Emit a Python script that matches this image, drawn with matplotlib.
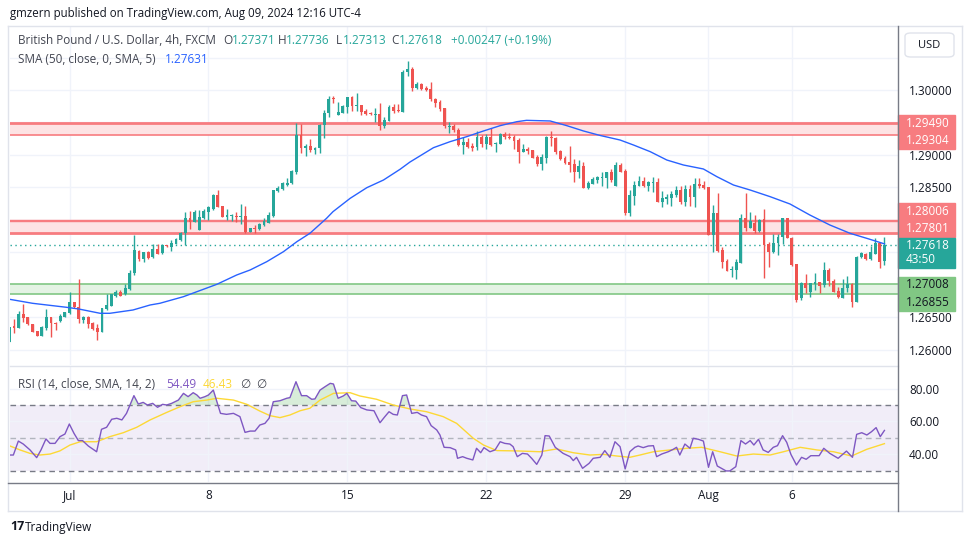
import numpy as np
import matplotlib.pyplot as plt
import matplotlib.transforms as mtransforms
from matplotlib.patches import Rectangle, FancyBboxPatch
from matplotlib.lines import Line2D

plt.rcParams['font.family'] = ['Open Sans', 'DejaVu Sans']

# GBPUSD 4h candles, first one is cut by the left edge
opens = [1.26125, 1.26372, 1.26341, 1.26546, 1.26505, 1.26392, 1.26290, 1.26218, 1.26341, 1.26505,
         1.26410, 1.26449, 1.26510, 1.26562, 1.26731, 1.26654, 1.26459, 1.26510, 1.26418, 1.26331,
         1.26279, 1.26628, 1.26680, 1.26834, 1.26885, 1.26854, 1.26936, 1.27177, 1.27526, 1.27398,
         1.27511, 1.27424, 1.27552, 1.27485, 1.27614, 1.27588, 1.27629, 1.27691, 1.27793, 1.28024,
         1.27973, 1.27850, 1.28024, 1.28127, 1.28163, 1.28383, 1.28214, 1.28040, 1.28060, 1.28065,
         1.28045, 1.28060, 1.27819, 1.27881, 1.27855, 1.27922, 1.27958, 1.28065, 1.28450, 1.28471,
         1.28537, 1.28563, 1.28743, 1.29307, 1.29102, 1.29138, 1.29076, 1.29102, 1.29461, 1.29641,
         1.29872, 1.29615, 1.29651, 1.29743, 1.29887, 1.29754, 1.29769, 1.29677, 1.29651, 1.29620,
         1.29625, 1.29446, 1.29528, 1.29733, 1.29692, 1.29666, 1.30272, 1.30323, 1.30026, 1.30092,
         1.30036, 1.30015, 1.29861, 1.29820, 1.29718, 1.29436, 1.29451, 1.29384, 1.29153, 1.29194,
         1.29143, 1.29128, 1.29271, 1.29169, 1.29271, 1.29174, 1.29169, 1.29323, 1.29282, 1.29282,
         1.29230, 1.29051, 1.29092, 1.29076, 1.28968, 1.28856, 1.28958, 1.29282, 1.29266, 1.29061,
         1.28958, 1.28897, 1.28861, 1.28743, 1.28830, 1.28496, 1.28558, 1.28614, 1.28650, 1.28650,
         1.28743, 1.28527, 1.28845, 1.28753, 1.28111, 1.28373, 1.28527, 1.28599, 1.28527, 1.28573,
         1.28578, 1.28281, 1.28317, 1.28342, 1.28383, 1.28460, 1.28281, 1.28476, 1.28358, 1.28553,
         1.28537, 1.28501, 1.27768, 1.28111, 1.27537, 1.27367, 1.27228, 1.27228, 1.27342, 1.28024,
         1.27880, 1.27947, 1.27829, 1.28014, 1.27624, 1.27511, 1.27650, 1.27742, 1.28024, 1.27727,
         1.27316, 1.26792, 1.27034, 1.26895, 1.27018, 1.27039, 1.26998, 1.27229, 1.27065, 1.26905,
         1.26803, 1.26946, 1.27013, 1.26741, 1.27434, 1.27475, 1.27393, 1.27475, 1.27650, 1.27371]
highs = [1.26356, 1.26469, 1.26597, 1.26705, 1.26510, 1.26400, 1.26295, 1.26360, 1.26623, 1.26510,
         1.26433, 1.26546, 1.26585, 1.26885, 1.26735, 1.27090, 1.26520, 1.26515, 1.26425, 1.26392,
         1.26645, 1.26854, 1.26860, 1.26921, 1.26921, 1.27008, 1.27229, 1.27768, 1.27530, 1.27511,
         1.27515, 1.27624, 1.27624, 1.27629, 1.27620, 1.27691, 1.27716, 1.27819, 1.28127, 1.28137,
         1.28152, 1.28152, 1.28168, 1.28219, 1.28394, 1.28460, 1.28220, 1.28168, 1.28086, 1.28127,
         1.28245, 1.28214, 1.27881, 1.27922, 1.27947, 1.28024, 1.28127, 1.28460, 1.28527, 1.28589,
         1.28650, 1.28768, 1.29487, 1.29477, 1.29163, 1.29246, 1.29122, 1.29471, 1.29692, 1.29908,
         1.29908, 1.29810, 1.29769, 1.29897, 1.29908, 1.29949, 1.29775, 1.29707, 1.29666, 1.29728,
         1.29795, 1.29579, 1.29769, 1.29779, 1.29784, 1.30308, 1.30446, 1.30349, 1.30128, 1.30103,
         1.30062, 1.30128, 1.29882, 1.29846, 1.29720, 1.29512, 1.29471, 1.29410, 1.29271, 1.29256,
         1.29179, 1.29374, 1.29307, 1.29317, 1.29420, 1.29194, 1.29333, 1.29348, 1.29333, 1.29307,
         1.29256, 1.29169, 1.29128, 1.29080, 1.28999, 1.29015, 1.29285, 1.29369, 1.29282, 1.29071,
         1.28984, 1.29143, 1.28938, 1.28922, 1.28886, 1.28599, 1.28661, 1.28681, 1.28743, 1.28745,
         1.28784, 1.28886, 1.28881, 1.28784, 1.28460, 1.28599, 1.28676, 1.28666, 1.28599, 1.28666,
         1.28640, 1.28445, 1.28394, 1.28445, 1.28522, 1.28522, 1.28537, 1.28537, 1.28650, 1.28640,
         1.28599, 1.28512, 1.28229, 1.28409, 1.27578, 1.27393, 1.27290, 1.27398, 1.28086, 1.28409,
         1.28117, 1.28075, 1.28014, 1.28163, 1.27665, 1.27778, 1.27778, 1.28030, 1.28030, 1.27735,
         1.27320, 1.27049, 1.27162, 1.27034, 1.27177, 1.27049, 1.27357, 1.27254, 1.27090, 1.26972,
         1.27090, 1.27141, 1.27023, 1.27444, 1.27511, 1.27485, 1.27603, 1.27727, 1.27665, 1.27736]
lows = [1.26125, 1.26264, 1.26330, 1.26433, 1.26380, 1.26270, 1.26210, 1.26210, 1.26305, 1.26202,
        1.26305, 1.26433, 1.26505, 1.26555, 1.26650, 1.26408, 1.26408, 1.26341, 1.26310, 1.26151,
        1.26275, 1.26613, 1.26675, 1.26808, 1.26830, 1.26844, 1.26921, 1.27152, 1.27372, 1.27347,
        1.27398, 1.27408, 1.27470, 1.27475, 1.27585, 1.27526, 1.27625, 1.27680, 1.27614, 1.27860,
        1.27963, 1.27845, 1.28020, 1.27999, 1.28160, 1.28200, 1.28045, 1.27999, 1.27989, 1.27973,
        1.27932, 1.27793, 1.27809, 1.27793, 1.27845, 1.27911, 1.27947, 1.28050, 1.28435, 1.28460,
        1.28527, 1.28548, 1.28702, 1.29035, 1.28989, 1.29040, 1.29020, 1.29035, 1.29266, 1.29590,
        1.29795, 1.29610, 1.29641, 1.29641, 1.29682, 1.29682, 1.29615, 1.29615, 1.29615, 1.29512,
        1.29384, 1.29420, 1.29520, 1.29641, 1.29656, 1.29660, 1.30221, 1.29990, 1.30010, 1.30000,
        1.29990, 1.29836, 1.29743, 1.29682, 1.29410, 1.29343, 1.29348, 1.29138, 1.29015, 1.29112,
        1.29061, 1.29076, 1.29128, 1.29092, 1.29143, 1.29051, 1.29165, 1.29240, 1.29246, 1.29092,
        1.28881, 1.29045, 1.29015, 1.28950, 1.28830, 1.28768, 1.28881, 1.29143, 1.29010, 1.28927,
        1.28856, 1.28743, 1.28589, 1.28640, 1.28490, 1.28471, 1.28548, 1.28573, 1.28527, 1.28496,
        1.28589, 1.28520, 1.28740, 1.28075, 1.28065, 1.28229, 1.28520, 1.28507, 1.28445, 1.28435,
        1.28275, 1.28204, 1.28240, 1.28219, 1.28358, 1.28240, 1.28219, 1.28219, 1.28204, 1.28486,
        1.28471, 1.27760, 1.27511, 1.27511, 1.27265, 1.27213, 1.27126, 1.27085, 1.27340, 1.27834,
        1.27870, 1.27803, 1.27819, 1.27100, 1.27280, 1.27485, 1.27460, 1.27624, 1.27720, 1.27296,
        1.26731, 1.26767, 1.26870, 1.26818, 1.26921, 1.26870, 1.26972, 1.26988, 1.26885, 1.26792,
        1.26792, 1.26885, 1.26654, 1.26735, 1.27408, 1.27383, 1.27383, 1.27470, 1.27265, 1.27313]
closes = [1.26356, 1.26341, 1.26546, 1.26485, 1.26392, 1.26279, 1.26218, 1.26356, 1.26500, 1.26408,
          1.26400, 1.26521, 1.26577, 1.26731, 1.26654, 1.26469, 1.26510, 1.26392, 1.26320, 1.26279,
          1.26639, 1.26690, 1.26854, 1.26895, 1.26834, 1.26946, 1.27177, 1.27537, 1.27398, 1.27501,
          1.27419, 1.27552, 1.27475, 1.27614, 1.27593, 1.27639, 1.27706, 1.27798, 1.28034, 1.27973,
          1.28127, 1.28040, 1.28142, 1.28194, 1.28383, 1.28204, 1.28050, 1.28075, 1.28075, 1.28050,
          1.28060, 1.27819, 1.27870, 1.27860, 1.27932, 1.27983, 1.28075, 1.28460, 1.28486, 1.28563,
          1.28573, 1.28753, 1.29307, 1.29102, 1.29143, 1.29076, 1.29102, 1.29461, 1.29641, 1.29861,
          1.29856, 1.29656, 1.29754, 1.29887, 1.29759, 1.29769, 1.29666, 1.29630, 1.29625, 1.29630,
          1.29451, 1.29538, 1.29743, 1.29682, 1.29682, 1.30272, 1.30323, 1.30036, 1.30092, 1.30015,
          1.30000, 1.29861, 1.29805, 1.29707, 1.29446, 1.29451, 1.29384, 1.29153, 1.29194, 1.29128,
          1.29102, 1.29271, 1.29163, 1.29282, 1.29153, 1.29189, 1.29323, 1.29271, 1.29266, 1.29215,
          1.29051, 1.29092, 1.29061, 1.28958, 1.28856, 1.28974, 1.29282, 1.29256, 1.29051, 1.28938,
          1.28871, 1.28845, 1.28743, 1.28830, 1.28496, 1.28573, 1.28630, 1.28666, 1.28661, 1.28743,
          1.28614, 1.28845, 1.28743, 1.28111, 1.28383, 1.28537, 1.28599, 1.28527, 1.28589, 1.28589,
          1.28281, 1.28332, 1.28358, 1.28399, 1.28460, 1.28281, 1.28476, 1.28358, 1.28553, 1.28527,
          1.28486, 1.27768, 1.28111, 1.27521, 1.27357, 1.27218, 1.27239, 1.27347, 1.28034, 1.27880,
          1.27988, 1.27829, 1.27999, 1.27614, 1.27511, 1.27650, 1.27742, 1.28024, 1.27727, 1.27306,
          1.26767, 1.27034, 1.26946, 1.27023, 1.27039, 1.26988, 1.27229, 1.27059, 1.26895, 1.26818,
          1.26946, 1.27008, 1.26741, 1.27434, 1.27485, 1.27393, 1.27511, 1.27639, 1.27357, 1.27618]

# SMA(50) line: (candle index, value)
sma_pts = [(-0.9, 1.26777), (4, 1.26716), (11.4, 1.26654), (14, 1.26628), (18.6, 1.26562),
           (20.7, 1.26562), (25.7, 1.26613), (29.4, 1.26690), (31.5, 1.26716), (36.6, 1.26818),
           (43.8, 1.27008), (48.1, 1.27152), (51, 1.27229), (54.6, 1.27357), (58.2, 1.27511),
           (61.1, 1.27665), (63.9, 1.27793), (67.5, 1.28024), (68.9, 1.28127), (72.6, 1.28332),
           (76.2, 1.28496), (79.8, 1.28614), (83.4, 1.28780), (85.5, 1.28890), (90.6, 1.29112),
           (94.2, 1.29205), (97.8, 1.29282), (101.4, 1.29369), (105, 1.29451), (108.6, 1.29512),
           (110.7, 1.29533), (115.8, 1.29523), (119.4, 1.29451), (123, 1.29369), (126.6, 1.29300),
           (130.9, 1.29230), (133.8, 1.29153), (137.4, 1.29051), (141, 1.28922), (144.6, 1.28845),
           (148.9, 1.28784), (151.8, 1.28666), (155.4, 1.28537), (159, 1.28460), (163.3, 1.28358),
           (167.6, 1.28245), (171.9, 1.28075), (176.2, 1.27922), (180.6, 1.27793), (184.2, 1.27716),
           (188, 1.27631)]

# RSI(14) and its SMA(14)
rsi_pts = [(-0.86, 39.5), (-0.14, 39.5), (0.94, 48.0), (2.0, 46.2), (3.46, 42.6), (4.9, 37.9),
           (5.83, 42.6), (6.9, 49.3), (7.78, 46.6), (8.86, 46.6), (9.94, 50.7), (11.0, 52.3),
           (11.95, 58.4), (12.96, 52.7), (13.9, 48.3), (14.8, 48.3), (16.05, 45.0), (17.85, 41.5),
           (18.9, 55.2), (20.0, 56.4), (21.1, 61.3), (22.2, 61.9), (23.3, 60.9), (24.3, 64.9),
           (25.9, 75.7), (26.85, 70.6), (27.9, 71.6), (28.8, 70.0), (29.95, 71.0), (31.0, 68.6),
           (32.1, 70.4), (32.97, 70.0), (34.05, 71.0), (35.5, 73.0), (36.6, 77.1), (37.6, 75.1),
           (38.7, 77.5), (39.5, 76.1), (40.2, 74.1), (41.25, 75.1), (42.0, 76.1), (43.05, 79.1),
           (44.6, 64.9), (45.9, 64.3), (47.4, 64.9), (48.8, 62.9), (49.9, 53.3), (51.0, 54.1),
           (52.05, 54.1), (53.1, 57.8), (54.2, 58.8), (55.1, 61.9), (56.0, 72.0), (57.45, 72.6),
           (58.9, 74.1), (59.6, 74.5), (60.9, 84.2), (62.1, 75.7), (63.2, 75.7), (64.3, 73.5),
           (65.0, 73.7), (66.1, 79.1), (67.2, 81.2), (68.3, 83.2), (69.0, 82.8), (70.0, 74.1),
           (71.1, 75.5), (71.9, 77.1), (72.9, 72.6), (73.8, 72.4), (74.9, 68.4), (76.2, 67.0),
           (77.75, 66.5), (79.05, 59.2), (80.1, 62.9), (81.0, 65.9), (81.9, 64.3), (82.8, 63.9),
           (83.9, 75.7), (84.8, 76.1), (85.9, 64.9), (87.1, 65.5), (88.0, 63.9), (89.1, 62.9),
           (90.1, 57.4), (91.3, 54.8), (92.0, 51.7), (92.9, 44.2), (94.2, 44.0), (95.4, 42.6),
           (95.8, 37.5), (96.9, 38.5), (97.8, 37.5), (99.1, 36.5), (99.9, 43.6), (100.8, 40.9),
           (101.5, 44.0), (102.8, 41.5), (103.9, 42.6), (105.0, 47.6), (106.0, 46.6), (107.1, 46.2),
           (107.8, 44.6), (108.7, 38.5), (109.8, 40.5), (110.9, 40.1), (111.8, 37.5), (112.9, 33.8),
           (114.0, 39.5), (114.7, 51.3), (115.6, 51.1), (116.9, 44.2), (118.6, 40.5), (120.1, 38.5),
           (120.8, 36.1), (121.5, 38.1), (122.8, 31.4), (124.2, 34.4), (125.1, 37.5), (126.6, 38.1),
           (127.6, 42.2), (128.7, 38.1), (129.8, 47.6), (130.9, 44.6), (132.0, 31.0), (133.0, 41.5),
           (134.1, 44.2), (134.8, 45.0), (135.9, 44.0), (137.0, 45.0), (138.1, 45.2), (138.8, 38.5),
           (139.9, 40.1), (141.3, 41.5), (142.4, 43.0), (143.1, 44.2), (143.8, 39.5), (144.9, 46.2),
           (146.0, 43.6), (146.7, 49.7), (147.8, 49.1), (148.9, 48.0), (150.0, 32.0), (150.9, 41.5),
           (151.9, 32.8), (152.8, 31.4), (153.8, 29.8), (154.6, 29.8), (155.9, 32.4), (157.0, 48.3),
           (158.0, 46.2), (159.0, 48.3), (159.8, 45.6), (160.8, 49.1), (161.8, 42.6), (162.9, 41.1),
           (164.0, 44.2), (164.9, 45.2), (166.0, 51.3), (166.9, 47.2), (167.8, 39.9), (169.0, 33.4),
           (170.1, 38.1), (171.1, 36.9), (172.1, 39.1), (173.9, 39.1), (174.9, 43.6), (176.2, 40.5),
           (178.0, 37.5), (179.8, 41.9), (181.1, 38.1), (182.0, 52.1), (183.1, 53.1), (184.2, 51.7),
           (185.2, 53.7), (186.2, 56.2), (187.1, 50.7), (188.0, 54.49)]
rsi_ma_pts = [(-0.86, 45.0), (1.3, 42.6), (3.46, 40.5), (5.6, 39.5), (7.8, 40.1), (9.9, 42.0),
              (12.1, 45.6), (14.3, 47.6), (17.85, 47.6), (20.7, 50.7), (23.6, 53.1), (26.5, 56.4),
              (29.4, 60.9), (33.0, 65.5), (35.9, 69.0), (38.7, 72.0), (41.6, 73.0), (43.8, 74.1),
              (47.4, 73.0), (50.3, 70.4), (53.1, 66.3), (55.3, 63.5), (57.45, 62.3), (59.6, 63.9),
              (61.8, 66.5), (63.9, 68.0), (66.1, 73.0), (69.0, 77.1), (72.6, 77.5), (74.7, 75.5),
              (78.3, 73.5), (81.9, 70.0), (85.5, 67.6), (89.1, 65.9), (92.7, 62.9), (95.6, 58.8),
              (99.2, 49.7), (101.4, 45.6), (104.3, 42.2), (108.7, 42.0), (113.6, 41.5), (117.2, 43.2),
              (120.8, 40.9), (124.4, 39.5), (127.3, 39.9), (130.2, 38.9), (133.0, 38.1), (135.2, 39.5),
              (138.1, 41.5), (141.7, 42.6), (145.3, 43.6), (148.5, 44.2), (152.5, 41.5), (156.1, 38.9),
              (159.7, 40.1), (163.3, 39.5), (166.2, 41.5), (169.8, 44.2), (173.4, 42.6), (177.0, 41.5),
              (180.9, 38.9), (184.2, 43.0), (188.0, 46.43)]

red_zone_1 = (1.29304, 1.29490)
red_zone_2 = (1.27801, 1.28006)
green_zone = (1.26855, 1.27008)
last_price = 1.27618

date_idx = [12, 42, 72, 102, 132, 150, 168]
date_lbl = ['Jul', '8', '15', '22', '29', 'Aug', '6']
price_grid = [1.260, 1.265, 1.270, 1.275, 1.280, 1.285, 1.290, 1.295, 1.300, 1.305]
price_shown = {1.260: '1.26000', 1.265: '1.26500', 1.285: '1.28500', 1.290: '1.29000', 1.300: '1.30000'}

UP, DOWN = '#26a69a', '#ef5350'
GRID = '#f0f3fa'
TXT = '#131722'
GRAY = '#787b86'
LEG = '#434651'
RED_LINE, RED_FILL = '#f77c80', '#fde3e4'
GRN_LINE, GRN_FILL = '#81c784', '#e4f3e4'
FS = 8.5

W, H = 970, 545
fig = plt.figure(figsize=(W / 100, H / 100), dpi=100)
ax = fig.add_axes([10 / W, 1 - 365 / H, 888 / W, 338 / H])
rx = fig.add_axes([10 / W, 1 - 482 / H, 888 / W, 115 / H])

def T(x, y, s, **kw):
    kw.setdefault('va', 'center')
    kw.setdefault('size', FS)
    return fig.text(x / W, 1 - y / H, s, **kw)

# ---- main pane
xs = np.arange(len(closes)) - 1
o = np.array(opens); c = np.array(closes); hi = np.array(highs); lo = np.array(lows)
col = np.where(c >= o, UP, DOWN)

for z0, z1 in (red_zone_1, red_zone_2):
    ax.axhspan(z0, z1, color=RED_FILL, lw=0, zorder=1)
ax.axhspan(*green_zone, color=GRN_FILL, lw=0, zorder=1)
ax.axhline(red_zone_1[1], color=RED_LINE, lw=2, zorder=2)
ax.axhline(red_zone_1[0], color=RED_LINE, lw=1.2, zorder=2)
ax.axhline(red_zone_2[1], color=RED_LINE, lw=1, zorder=2)
ax.axhline(1.27985, color=RED_LINE, lw=1, zorder=2)
ax.axhline(red_zone_2[0], color=RED_LINE, lw=2, zorder=2)
ax.axhline(green_zone[1], color=GRN_LINE, lw=1.2, zorder=2)
ax.axhline(green_zone[0], color=GRN_LINE, lw=1.2, zorder=2)
ax.axhline(last_price, color=UP, lw=1, ls=(0, (1, 2.5)), zorder=2)

ax.vlines(xs, lo, hi, colors=col, lw=1, zorder=3)
ax.bar(xs, np.maximum(np.abs(c - o), 0.00003), bottom=np.minimum(o, c), width=0.62,
       color=col, lw=0, zorder=3)

sx, sv = zip(*sma_pts)
ax.plot(sx, sv, color='#2962ff', lw=1, zorder=4)

ax.set_xlim(-0.864, 190.93)
ax.set_ylim(1.25766, 1.30970)
ax.set_yticks(price_grid)
ax.set_yticklabels([price_shown.get(round(p, 3), '') for p in price_grid])
ax.yaxis.tick_right()
ax.set_xticks(date_idx)
ax.tick_params(axis='both', length=0, labelbottom=False, labelsize=FS, labelcolor=TXT, pad=8)
ax.grid(True, color=GRID, lw=1, zorder=0)
ax.set_axisbelow(True)
for s in ax.spines.values():
    s.set_visible(False)

# price tags on the axis; labels are pushed apart in pixels like TradingView does
blend = mtransforms.blended_transform_factory(ax.transAxes, ax.transData)
ppx = (1.30970 - 1.25766) / 338
tw = 57 / 888

def tag(vals, shift, face, tc, sub=None):
    ys = [v - s * ppx for v, s in zip(vals, shift)]
    texts = [f'{v:.5f}' for v in vals]
    if sub:
        ys.append(ys[-1] - 13.5 * ppx)
        texts.append(sub)
    top = ys[0] + 8 * ppx
    bot = ys[-1] - 8.5 * ppx
    ax.add_patch(Rectangle((1.0, bot), tw, top - bot, transform=blend, color=face,
                           clip_on=False, zorder=5))
    for y, t in zip(ys, texts):
        ax.text(1.0 + 8 / 888, y, t, transform=blend, color=tc, size=FS,
                va='center', clip_on=False, zorder=6)

tag([red_zone_1[1], red_zone_1[0]], [0, 5.5], RED_LINE, 'white')
tag([red_zone_2[1], red_zone_2[0]], [-8.5, -4.5], RED_LINE, 'white')
tag([last_price], [1], UP, 'white', sub='43:50')
tag([green_zone[1], green_zone[0]], [0.5, 8], GRN_LINE, TXT)

# ---- RSI pane
rix, riv = np.array(rsi_pts).T
mix, miv = np.array(rsi_ma_pts).T
rx.axhspan(30, 70, color='#7e57c2', alpha=0.1, lw=0, zorder=0)
rx.fill_between(rix, riv, 70, where=riv > 70, interpolate=True, color='#66bb6a', alpha=0.25,
                lw=0, zorder=1)
rx.fill_between(rix, riv, 30, where=riv < 30, interpolate=True, color='#ef5350', alpha=0.2,
                lw=0, zorder=1)
rx.axhline(70, color=GRAY, lw=1, ls=(0, (4, 3)), zorder=2)
rx.axhline(30, color=GRAY, lw=1, ls=(0, (4, 3)), zorder=2)
rx.axhline(50, color='#b2b5be', lw=1, ls=(0, (4, 3)), zorder=2)
rx.plot(mix, miv, color='#fdd835', lw=1, zorder=3)
rx.plot(rix, riv, color='#7e57c2', lw=1, zorder=4)
rx.set_xlim(-0.864, 190.93)
rx.set_ylim(23.05, 93.17)
rx.set_yticks([40, 60, 80])
rx.set_yticklabels(['40.00', '60.00', '80.00'])
rx.yaxis.tick_right()
rx.set_xticks(date_idx)
rx.set_xticklabels(date_lbl)
rx.tick_params(axis='both', length=0, labelsize=FS, labelcolor=TXT)
rx.tick_params(axis='y', pad=8)
rx.tick_params(axis='x', pad=5)
rx.grid(True, color=GRID, lw=1, zorder=0)
rx.set_axisbelow(True)
for s in rx.spines.values():
    s.set_visible(False)

# ---- frame lines
def L(x0, y0, x1, y1, color, lw=1):
    fig.add_artist(Line2D([x0 / W, x1 / W], [1 - y0 / H, 1 - y1 / H], color=color, lw=lw))

L(8, 26, 962, 26, '#e0e3eb')
L(8, 26, 8, 511, '#e0e3eb')
L(962, 26, 962, 511, '#e0e3eb')
L(8, 511, 962, 511, '#e0e3eb')
L(10, 366, 898, 366, '#e0e3eb')
L(8, 483, 898, 483, GRAY)
L(898, 26, 898, 511, GRAY)

fig.add_artist(FancyBboxPatch((905 / W, 1 - 57 / H), 49 / W, 24 / H,
                              boxstyle='round,pad=0,rounding_size=0.006',
                              transform=fig.transFigure, fc='white', ec='#e0e3eb', lw=1))
T(929.5, 45, 'USD', ha='center', color=TXT, size=8)

# ---- legends and header
T(10.5, 13, 'gmzern published on TradingView.com, Aug 09, 2024 12:16 UTC-4', color=TXT, size=8.3)
T(18, 41, 'British Pound / U.S. Dollar, 4h, FXCM', color=LEG)
for lx, lt, vx, vt in ((223, 'O', 231.5, '1.27371'), (277.5, 'H', 285.5, '1.27736'),
                       (336, 'L', 342.5, '1.27313'), (391, 'C', 399, '1.27618')):
    T(lx, 41, lt, color=LEG)
    T(vx, 41, vt, color=UP)
T(451, 41, '+0.00247 (+0.19%)', color=UP)
T(18, 59, 'SMA (50, close, 0, SMA, 5)', color=LEG)
T(165, 59, '1.27631', color='#2962ff')

T(18, 385, 'RSI (14, close, SMA, 14, 2)', color=LEG)
T(166, 385, '54.49', color='#7e57c2')
T(203, 385, '46.43', color='#fdd835')
T(240, 385, '\u2205', color=LEG)
T(256, 385, '\u2205', color=LEG)

T(10, 527, '17', color=TXT, size=9, weight='bold')
T(25, 527, 'TradingView', color=TXT, size=8.5)

fig.savefig('out.png', dpi=100, facecolor='white')
